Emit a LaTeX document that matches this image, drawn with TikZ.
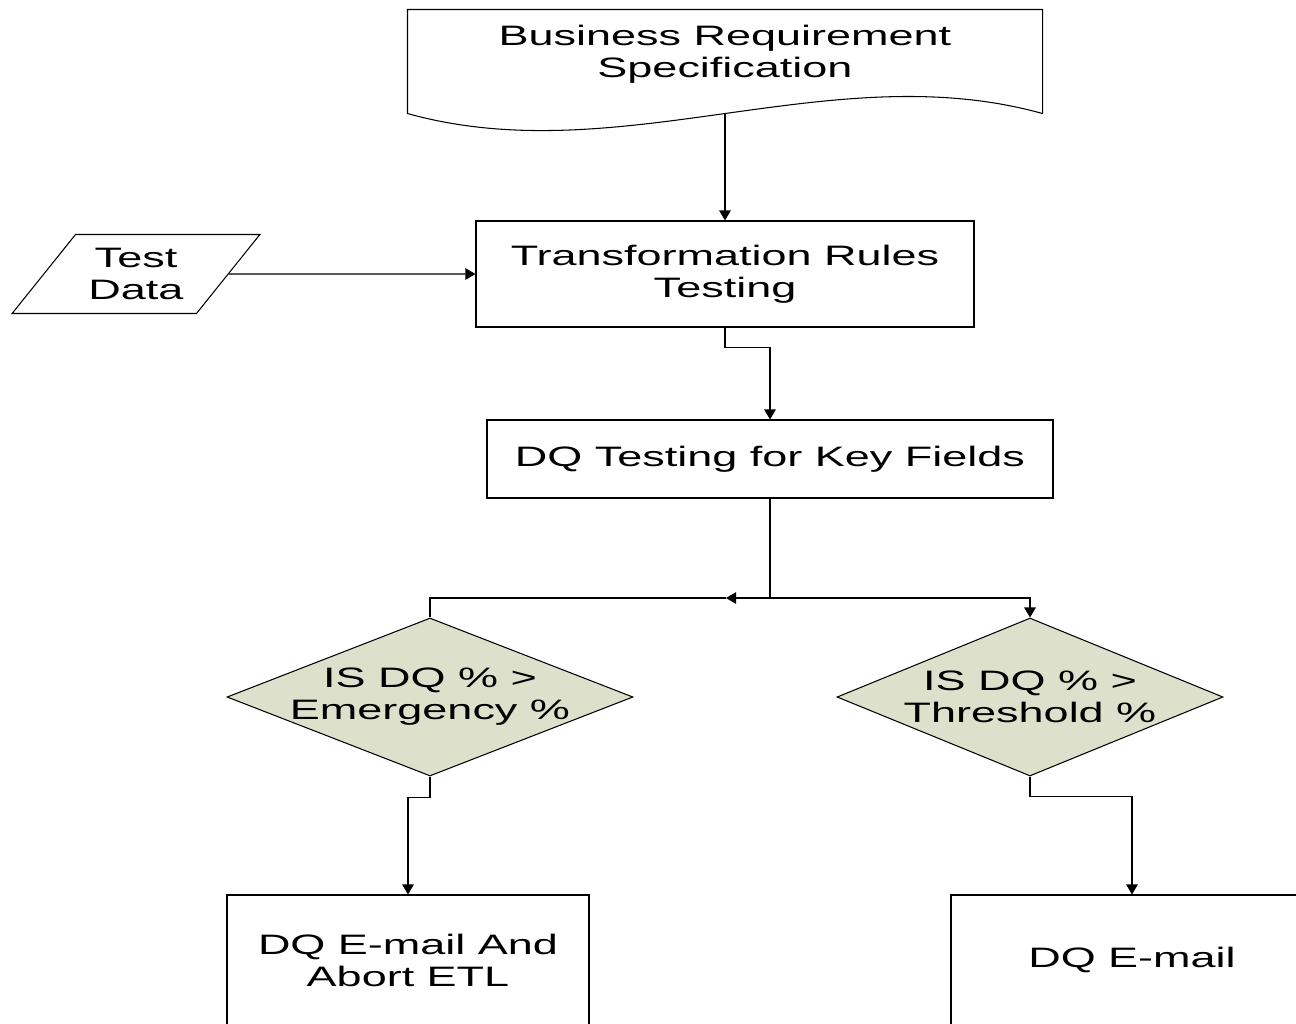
\documentclass[tikz,border=0pt]{standalone}
\usepackage{fontspec}
\setmainfont{Liberation Sans}[FakeStretch=1.6]
\usetikzlibrary{shapes.geometric,arrows.meta}
\definecolor{dqgreen}{RGB}{221,225,204}

\begin{document}
\begin{tikzpicture}[line width=0.6pt,font=\fontsize{16}{18.2}\selectfont]

      \makeatletter
      \pgfdeclareshape{wavedoc}{
      \inheritsavedanchors[from=rectangle] % a rectangle with a wavy bottom
      \inheritanchorborder[from=rectangle]
      \inheritanchor[from=rectangle]{center}
      \inheritanchor[from=rectangle]{north}
      \inheritanchor[from=rectangle]{west}
      \inheritanchor[from=rectangle]{east}
      % middle of the wave, where the outgoing line starts
      \anchor{tail}{
      \southwest \pgf@xa=\pgf@x \pgf@ya=\pgf@y
      \northeast \pgf@x=.5\pgf@x \advance\pgf@x by .5\pgf@xa
      \pgf@y=\pgf@ya \advance\pgf@y by-0.3cm
      }
      \backgroundpath{
      \southwest \pgf@xa=\pgf@x \pgf@ya=\pgf@y
      \northeast \pgf@xb=\pgf@x \pgf@yb=\pgf@y
      \advance\pgf@ya by-0.3cm % sides run a bit below the box
      \pgfpathmoveto{\pgfqpoint{\pgf@xb}{\pgf@ya}}
      \pgfpathlineto{\pgfqpoint{\pgf@xb}{\pgf@yb}}
      \pgfpathlineto{\pgfqpoint{\pgf@xa}{\pgf@yb}}
      \pgfpathlineto{\pgfqpoint{\pgf@xa}{\pgf@ya}}
      % end of the wave in xc/yc, controls in xa/ya and xb/yb
      \pgf@xc=\pgf@xb \pgf@yc=\pgf@ya
      \pgf@x=\pgf@xb \advance\pgf@x by-\pgf@xa \divide\pgf@x by 3
      \pgf@xb=\pgf@xc \advance\pgf@xb by-\pgf@x
      \advance\pgf@xa by\pgf@x
      \pgf@yb=\pgf@ya \advance\pgf@yb by 1.18cm
      \advance\pgf@ya by-1.18cm
      % freeze the numbers before the curve is built
      \edef\wavecurve{\noexpand\pgfpathcurveto
        {\noexpand\pgfqpoint{\the\pgf@xa}{\the\pgf@ya}}
        {\noexpand\pgfqpoint{\the\pgf@xb}{\the\pgf@yb}}
        {\noexpand\pgfqpoint{\the\pgf@xc}{\the\pgf@yc}}}
      \wavecurve
      \pgfpathclose
      }
      }
      \makeatother
      \tikzstyle{specdoc} = [shape=wavedoc, draw, align=center, minimum width=12.68cm, minimum height=1.76cm]

\tikzstyle{procbox} = [draw, align=center];
\tikzstyle{iobox} = [trapezium, trapezium left angle=46, trapezium right angle=134, trapezium stretches=true, draw, align=center, inner sep=0, minimum width=4.96cm, minimum height=1.58cm];
\tikzstyle{decision} = [diamond, draw, fill=dqgreen, align=center, inner xsep=-1.5cm, inner ysep=-0.4cm, minimum height=3.16cm];
\tikzstyle{thinarrow} = [-{Triangle[length=2mm,width=2.3mm]}];

\path[use as bounding box, clip] (0,0) rectangle (25.92,-20.46);

\node[specdoc] (v1) at (14.5,-1.08) {Business Requirement\\Specification};
\node[procbox, minimum width=9.96cm, minimum height=2.12cm] (v2) at (14.5,-5.48) {Transformation Rules\\Testing};
\node[iobox] (v3) at (2.72,-5.48) {Test\\Data};
\node[procbox, minimum width=11.32cm, minimum height=1.56cm] (v4) at (15.4,-9.18) {DQ Testing for Key Fields};
\node[decision, minimum width=8.12cm] (v5) at (8.6,-13.94) {IS DQ \% >\\Emergency \%};
\node[decision, minimum width=7.72cm] (v6) at (20.6,-13.94) {IS DQ \% >\\Threshold \%};
\node[procbox, minimum width=7.24cm, minimum height=2.6cm] (v7) at (8.16,-19.2) {DQ E-mail And\\Abort ETL};
\node[procbox, minimum width=7.24cm, minimum height=2.6cm] (v8) at (22.64,-19.2) {DQ E-mail};

\coordinate (c1) at (15.4,-11.96);
\coordinate (c2) at (14.52,-11.96);

\draw [thinarrow] (v1.tail) -- (v2);
\draw [thinarrow] (v3.east) -- (v2.west);
\draw [thinarrow] (v2.south) -- ++(0,-0.4) -| (v4);
\draw (v4) -- (c1);
\draw [thinarrow] (c1) -- (c2);
\draw (c2) -| (v5);
\draw [thinarrow] (c1) -| (v6);
\draw [thinarrow] (v5.south) -- ++(0,-0.42) -| (v7);
\draw [thinarrow] (v6.south) -- ++(0,-0.4) -| (v8);
\end{tikzpicture}
\end{document}
